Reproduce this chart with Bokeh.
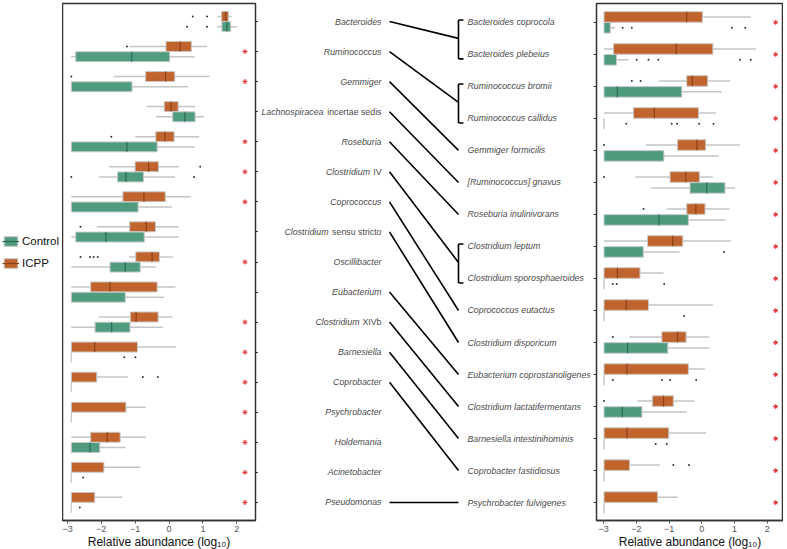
from bokeh.plotting import figure
from bokeh.models import Range1d, FixedTicker, ColumnDataSource, Legend, LegendItem
from bokeh.layouts import row
from bokeh.embed import file_html
from bokeh.resources import INLINE

# ---------------- data ----------------
genera_italic = ["Bacteroides", "Ruminococcus", "Gemmiger", "Lachnospiracea", "Roseburia",
                 "Clostridium", "Coprococcus", "Clostridium", "Oscillibacter", "Eubacterium",
                 "Clostridium", "Barnesiella", "Coprobacter", "Psychrobacter", "Holdemania",
                 "Acinetobacter", "Pseudomonas"]
genera_roman = ["", "", "", "incertae sedis", "", "IV", "", "sensu stricto", "", "",
                "XIVb", "", "", "", "", "", ""]
genus_sig = [0, 1, 1, 0, 1, 1, 1, 0, 1, 0, 1, 1, 1, 1, 1, 1, 1]

species = ["Bacteroides coprocola", "Bacteroides plebeius", "Ruminococcus bromii",
           "Ruminococcus callidus", "Gemmiger formicilis", "[Ruminococcus] gnavus",
           "Roseburia inulinivorans", "Clostridium leptum", "Clostridium sporosphaeroides",
           "Coprococcus eutactus", "Clostridium disporicum", "Eubacterium coprostanoligenes",
           "Clostridium lactatifermentans", "Barnesiella intestinihominis",
           "Coprobacter fastidiosus", "Psychrobacter fulvigenes"]
species_sig = [1] * 16

groups = ["Control", "ICPP"]

# genus index -> species indices
link_genus = [0, 1, 2, 3, 4, 5, 6, 7, 9, 10, 11, 12, 16]
link_species = [[0, 1], [2, 3], [4], [5], [6], [7, 8], [9], [10], [11], [12], [13], [14], [15]]

# left panel (genus level), log10 relative abundance
L_icpp_lo  = [1.43, -1.16, -1.63, -0.65, -1.00, -1.77, -2.88, -2.13, -1.18, -2.88, -2.06, -2.88, -2.88, -2.88, -2.88, -2.88, -2.88]
L_icpp_q1  = [1.55, -0.09, -0.69, -0.14, -0.39, -1.00, -1.36, -1.16, -0.98, -2.31, -1.14, -2.88, -2.88, -2.88, -2.31, -2.88, -2.88]
L_icpp_med = [1.67, 0.33, -0.10, 0.06, -0.12, -0.60, -0.74, -0.67, -0.50, -1.74, -0.97, -2.19, -2.88, -2.88, -1.82, -2.88, -2.88]
L_icpp_q3  = [1.75, 0.66, 0.17, 0.27, 0.15, -0.31, -0.11, -0.40, -0.28, -0.35, -0.32, -0.93, -2.13, -1.27, -1.44, -1.92, -2.19]
L_icpp_hi  = [1.85, 1.12, 1.20, 0.77, 0.89, 0.29, 0.64, 0.29, 0.11, 0.19, 0.10, 0.20, -1.21, -0.69, -0.68, -0.84, -1.38]
L_icpp_out_row = [0, 0, 1, 2, 4, 5, 7, 8, 8, 8, 8, 12, 12]
L_icpp_out_val = [0.70, 1.12, -1.24, -2.88, -1.70, 0.92, -2.61, -2.61, -2.33, -2.22, -2.10, -0.77, -0.33]

L_ctrl_lo  = [1.42, -2.88, -2.88, -0.38, -2.88, -2.06, -2.88, -2.88, -2.88, -2.88, -2.88, -2.88, -2.88, -2.88, -2.88, -2.88, -2.88]
L_ctrl_q1  = [1.56, -2.75, -2.88, 0.11, -2.88, -1.52, -2.88, -2.75, -1.74, -2.88, -2.18, -2.88, -2.88, -2.88, -2.88, -2.88, -2.88]
L_ctrl_med = [1.71, -1.10, -2.88, 0.47, -1.24, -1.27, -2.88, -1.86, -1.29, -2.88, -1.69, -2.88, -2.88, -2.88, -2.33, -2.88, -2.88]
L_ctrl_q3  = [1.82, 0.02, -1.09, 0.77, -0.35, -0.75, -0.91, -0.73, -0.85, -1.29, -1.15, -2.88, -2.88, -2.88, -2.04, -2.88, -2.88]
L_ctrl_hi  = [2.00, 0.75, 0.56, 1.03, 0.75, 0.18, 0.08, 0.29, -0.38, -0.15, -0.18, -2.88, -2.88, -2.88, -1.28, -2.88, -2.88]
L_ctrl_out_row = [0, 0, 5, 5, 11, 11, 15, 16]
L_ctrl_out_val = [0.53, 1.12, -2.88, 0.74, -1.32, -0.99, -2.53, -2.63]

# right panel (species level)
R_icpp_lo  = [-2.99, -2.99, -1.30, -2.99, -1.71, -2.03, -1.07, -2.99, -2.99, -2.99, -2.21, -2.99, -1.97, -2.99, -2.99, -2.99]
R_icpp_q1  = [-2.99, -2.70, -0.46, -2.09, -0.74, -0.97, -0.46, -1.66, -2.99, -2.99, -1.22, -2.99, -1.51, -2.99, -2.99, -2.99]
R_icpp_med = [-0.46, -0.78, -0.29, -1.45, -0.15, -0.49, -0.18, -0.89, -2.58, -2.31, -0.74, -2.29, -1.17, -2.29, -2.99, -2.99]
R_icpp_q3  = [0.02, 0.34, 0.18, -0.10, 0.12, -0.07, 0.10, -0.58, -1.89, -1.63, -0.48, -0.41, -0.87, -1.01, -2.21, -1.35]
R_icpp_hi  = [1.50, 1.65, 0.87, 0.43, 1.16, 0.34, 0.85, 0.89, -1.17, 0.34, 0.23, 0.10, -0.22, 0.13, -1.29, -0.74]
R_icpp_out_row = [2, 2, 4, 5, 6, 10, 12, 14, 14]
R_icpp_out_val = [-2.14, -1.87, -2.99, -2.99, -1.78, -2.72, -2.99, -0.87, -0.39]

R_ctrl_lo  = [-2.99, -2.99, -2.99, -2.99, -2.99, -1.55, -2.99, -2.99, -2.99, -2.99, -2.99, -2.99, -2.99, -2.99, -2.99, -2.99]
R_ctrl_q1  = [-2.99, -2.99, -2.99, -2.99, -2.99, -0.36, -2.99, -2.99, -2.99, -2.99, -2.99, -2.99, -2.99, -2.99, -2.99, -2.99]
R_ctrl_med = [-2.99, -2.99, -2.58, -2.99, -2.99, 0.15, -1.31, -2.99, -2.99, -2.99, -2.27, -2.99, -2.43, -2.99, -2.99, -2.99]
R_ctrl_q3  = [-2.80, -2.61, -0.61, -2.99, -1.16, 0.71, -0.41, -1.79, -2.99, -2.99, -1.04, -2.99, -1.83, -2.99, -2.99, -2.99]
R_ctrl_hi  = [-2.65, -2.24, 0.61, -2.99, 0.52, 1.02, 0.72, -0.68, -2.99, -2.99, 0.23, -2.99, -0.46, -2.99, -2.99, -2.99]
R_ctrl_out_row = [0, 0, 0, 0, 1, 1, 1, 1, 1, 3, 3, 3, 3, 3, 7, 8, 8, 8, 9, 11, 11, 11, 11, 13, 13]
R_ctrl_out_val = [-2.42, -2.14, 0.92, 1.33, -1.99, -1.63, -1.33, 1.17, 1.50, -2.31, -0.92, -0.76, -0.08, 0.36,
                  0.68, -2.72, -2.60, -1.15, -0.54, -2.72, -1.22, -0.97, -0.17, -1.41, -1.07]

x_ticks = [-3, -2, -1, 0, 1, 2]

# ---------------- style ----------------
FONT = "Liberation Sans"
ORANGE = "#C1632C"
ORANGE_MED = "#8A421A"
GREEN = "#4F9B7E"
GREEN_MED = "#2E6B54"
OUTLINE = "#C8C8C8"
WHISK = "#C4C4C4"
STAR = "#E0393E"
TXT = "#4A4A4A"
FH = 517
MB_TOP = 3
MB_BOT = 29
G_FW = 62
L_FW = 193
M_FW = 335
R_FW = 187
BOX_H = 0.33
OFF = 0.17
LAB_PX = "8.8px"

L_yr = (16.6, -0.6)
R_yr = (15.56, -0.59)


def style_frame(p, yticks):
    p.xgrid.visible = False
    p.ygrid.visible = False
    p.outline_line_color = "#333333"
    p.outline_line_width = 1.5
    p.background_fill_color = "white"
    p.border_fill_color = "white"
    xa = p.xaxis[0]
    xa.ticker = FixedTicker(ticks=x_ticks)
    xa.major_label_overrides = {t: (str(t).replace("-", "\u2212")) for t in x_ticks}
    xa.major_label_text_font = FONT
    xa.major_label_text_font_size = "9px"
    xa.major_label_text_color = "#555555"
    xa.major_label_standoff = 2
    xa.major_tick_out = 3
    xa.major_tick_in = 0
    xa.minor_tick_out = 0
    xa.minor_tick_in = 0
    xa.axis_line_color = "#333333"
    xa.axis_line_width = 1.5
    xa.major_tick_line_color = "#555555"
    xa.axis_label = "Relative abundance (log\u2081\u2080)"
    xa.axis_label_text_font = FONT
    xa.axis_label_text_font_size = "12px"
    xa.axis_label_text_font_style = "normal"
    xa.axis_label_text_color = "#111111"
    xa.axis_label_standoff = 0
    ya = p.yaxis[0]
    ya.ticker = FixedTicker(ticks=yticks)
    ya.major_label_overrides = {t: "" for t in yticks}
    ya.major_label_standoff = 0
    ya.major_label_text_font_size = "1px"
    ya.major_tick_out = 3
    ya.major_tick_in = 0
    ya.minor_tick_out = 0
    ya.minor_tick_in = 0
    ya.axis_line_color = None
    ya.major_tick_line_color = "#333333"


def draw_group(p, n, off, lo, q1, med, q3, hi, orow, oval, fill, medc):
    y = [i + off for i in range(n)]
    src = ColumnDataSource(dict(y=y, lo=lo, q1=q1, q3=q3, hi=hi))
    p.segment(x0="lo", y0="y", x1="hi", y1="y", source=src, line_color=WHISK, line_width=1.5)
    p.hbar(y="y", left="q1", right="q3", height=BOX_H, source=src,
           fill_color=fill, line_color=OUTLINE, line_width=1)
    my = [y[i] for i in range(n) if med[i] > q1[i]]
    mx = [med[i] for i in range(n) if med[i] > q1[i]]
    msrc = ColumnDataSource(dict(x=mx, y0=[v - BOX_H / 2 for v in my], y1=[v + BOX_H / 2 for v in my]))
    p.segment(x0="x", y0="y0", x1="x", y1="y1", source=msrc, line_color=medc, line_width=1.2)
    p.scatter(x=oval, y=[r + off for r in orow], size=2, marker="circle",
              fill_color="#333333", line_color=None)


def stars(p, sig, xpos):
    ys = [i for i, s in enumerate(sig) if s]
    p.scatter(x=[xpos] * len(ys), y=ys, marker="asterisk", size=5, line_color=STAR, line_width=1)


def blank_fig(fw, xr, yr):
    f = figure(frame_width=fw, frame_height=FH, x_range=xr, y_range=yr,
               output_backend="svg", toolbar_location=None, x_axis_location=None, y_axis_location=None,
               min_border_top=MB_TOP, min_border_bottom=MB_BOT, min_border_left=0, min_border_right=0)
    f.xgrid.visible = False
    f.ygrid.visible = False
    f.outline_line_color = None
    return f


# ---------------- legend panel ----------------
G = blank_fig(G_FW, Range1d(0, 1), Range1d(0, 1))
leg_items = []
for gname, fill, medc in zip(groups, [GREEN, ORANGE], [GREEN_MED, ORANGE_MED]):
    s = ColumnDataSource(dict(y=[50], l=[50], r=[51], x=[50], y0=[50], y1=[51]))
    rb = G.hbar(y="y", left="l", right="r", height=0.1, source=s, fill_color=fill, line_color=OUTLINE)
    rl = G.segment(x0="x", y0="y0", x1="x", y1="y1", source=s, line_color=medc, line_width=1.2)
    leg_items.append(LegendItem(label=gname, renderers=[rb, rl]))
legend = Legend(items=leg_items, location=(2, 251), orientation="vertical")
legend.label_text_font = FONT
legend.label_text_font_size = "11.5px"
legend.label_text_color = "#111111"
legend.glyph_width = 17
legend.glyph_height = 12
legend.label_height = 12
legend.label_standoff = 3
legend.spacing = 10
legend.padding = 0
legend.margin = 0
legend.border_line_color = None
legend.background_fill_alpha = 0
G.add_layout(legend)

# ---------------- left panel ----------------
nL = len(genera_italic)
L = figure(frame_width=L_FW, frame_height=FH, x_range=Range1d(-3.14, 2.55), y_range=Range1d(*L_yr),
           output_backend="svg", toolbar_location=None, y_axis_location="right",
           min_border_top=MB_TOP, min_border_bottom=MB_BOT, min_border_left=0, min_border_right=0)
style_frame(L, list(range(nL)))
draw_group(L, nL, -OFF, L_icpp_lo, L_icpp_q1, L_icpp_med, L_icpp_q3, L_icpp_hi,
           L_icpp_out_row, L_icpp_out_val, ORANGE, ORANGE_MED)
draw_group(L, nL, OFF, L_ctrl_lo, L_ctrl_q1, L_ctrl_med, L_ctrl_q3, L_ctrl_hi,
           L_ctrl_out_row, L_ctrl_out_val, GREEN, GREEN_MED)
stars(L, genus_sig, 2.24)

# ---------------- middle panel ----------------
M = blank_fig(M_FW, Range1d(0, M_FW), Range1d(*L_yr))

X_GEN = 123
X_LINE0 = 131
X_LINE1 = 200
X_TICK = 205
X_SP = 209

# approximate widths (px) of the upright suffixes at 8.8px, plus a word space
suffix_w = {"": 0, "incertae sedis": 58, "IV": 11.5, "sensu stricto": 53, "XIVb": 22}


def sp_y(j):
    return L_yr[1] + (j - R_yr[1]) * (L_yr[0] - L_yr[1]) / (R_yr[0] - R_yr[1])


gsrc = ColumnDataSource(dict(x=[X_GEN] * nL, y=list(range(nL)), it=genera_italic, ro=genera_roman,
                             xo=[-suffix_w[s] for s in genera_roman]))
M.text(x="x", y="y", text="it", x_offset="xo", source=gsrc, text_align="right", text_baseline="middle",
       text_font={"value": FONT}, text_font_size=LAB_PX, text_font_style="italic", text_color=TXT)
M.text(x="x", y="y", text="ro", source=gsrc, text_align="right", text_baseline="middle",
       text_font={"value": FONT}, text_font_size=LAB_PX, text_font_style="normal", text_color=TXT)

nR = len(species)
ssrc = ColumnDataSource(dict(x=[X_SP] * nR, y=[sp_y(j) for j in range(nR)], t=species))
M.text(x="x", y="y", text="t", source=ssrc, text_align="left", text_baseline="middle",
       text_font={"value": FONT}, text_font_size=LAB_PX, text_font_style="italic", text_color=TXT)

x0s, y0s, x1s, y1s = [], [], [], []
bx0, by0, bx1, by1 = [], [], [], []
for g, sps in zip(link_genus, link_species):
    ys = [sp_y(j) for j in sps]
    x0s.append(X_LINE0); y0s.append(g); x1s.append(X_LINE1); y1s.append(sum(ys) / len(ys))
    if len(sps) > 1:
        top, bot = min(ys) - 0.08, max(ys) + 0.15
        bx0 += [X_LINE1, X_LINE1, X_LINE1]; by0 += [top, top, bot]
        bx1 += [X_LINE1, X_TICK, X_TICK]; by1 += [bot, top, bot]
M.segment(x0=x0s, y0=y0s, x1=x1s, y1=y1s, line_color="black", line_width=1.6)
M.segment(x0=bx0, y0=by0, x1=bx1, y1=by1, line_color="black", line_width=1.6)

# ---------------- right panel ----------------
R = figure(frame_width=R_FW, frame_height=FH, x_range=Range1d(-3.22, 2.50), y_range=Range1d(*R_yr),
           output_backend="svg", toolbar_location=None, y_axis_location="left",
           min_border_top=MB_TOP, min_border_bottom=MB_BOT, min_border_left=0, min_border_right=0)
style_frame(R, list(range(nR)))
draw_group(R, nR, -OFF, R_icpp_lo, R_icpp_q1, R_icpp_med, R_icpp_q3, R_icpp_hi,
           R_icpp_out_row, R_icpp_out_val, ORANGE, ORANGE_MED)
draw_group(R, nR, OFF, R_ctrl_lo, R_ctrl_q1, R_ctrl_med, R_ctrl_q3, R_ctrl_hi,
           R_ctrl_out_row, R_ctrl_out_val, GREEN, GREEN_MED)
stars(R, species_sig, 2.26)

layout = row(G, L, M, R, spacing=0)
open("out.html", "w").write(file_html(layout, INLINE))
